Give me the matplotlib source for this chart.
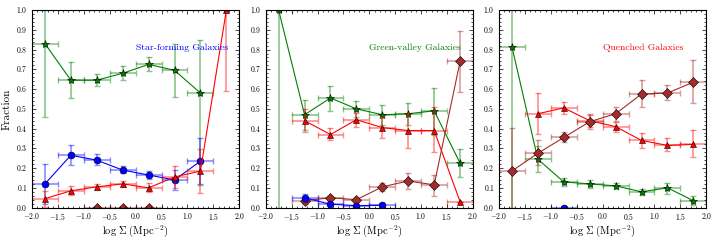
import numpy as np
import matplotlib
matplotlib.use("Agg")
import matplotlib.pyplot as plt
from matplotlib.ticker import AutoMinorLocator, MultipleLocator

plt.style.use("classic")
plt.rcParams["font.family"] = "serif"
plt.rcParams["font.serif"] = ["cmr10", "DejaVu Serif"]
plt.rcParams["mathtext.fontset"] = "cm"
plt.rcParams["axes.formatter.use_mathtext"] = True

bins = [-1.75, -1.25, -0.75, -0.25, 0.25, 0.75, 1.25, 1.75]
titles = ["Star-forming Galaxies", "Green-valley Galaxies", "Quenched Galaxies"]
title_colors = ["blue", "green", "red"]

# ---- Panel 1: Star-forming ----
sf_green_y  = [0.83, 0.645, 0.645, 0.68, 0.725, 0.695, 0.58, None]
sf_green_lo = [0.46, 0.555, 0.615, 0.645, 0.69, 0.56, 0.115, None]
sf_green_hi = [1.00, 0.735, 0.675, 0.715, 0.76, 0.83, 0.85, None]
sf_blue_y   = [0.12, 0.265, 0.24, 0.19, 0.165, 0.14, 0.235, None]
sf_blue_lo  = [0.02, 0.215, 0.215, 0.175, 0.145, 0.09, 0.12, None]
sf_blue_hi  = [0.22, 0.315, 0.27, 0.21, 0.185, 0.19, 0.35, None]
sf_red_y    = [0.045, 0.085, 0.105, 0.12, 0.10, 0.155, 0.185, 1.0]
sf_red_lo   = [0.005, 0.065, 0.09, 0.105, 0.08, 0.10, 0.075, 0.59]
sf_red_hi   = [0.085, 0.11, 0.12, 0.135, 0.125, 0.21, 0.295, 1.0]
sf_brown_y  = [None, None, 0.0, 0.0, 0.0, None, None, None]
sf_brown_lo = [None, None, 0.0, 0.0, 0.0, None, None, None]
sf_brown_hi = [None, None, 0.0, 0.0, 0.0, None, None, None]

# ---- Panel 2: Green-valley ----
gv_green_y  = [1.0, 0.47, 0.555, 0.50, 0.47, 0.475, 0.49, 0.225]
gv_green_lo = [0.0, 0.395, 0.49, 0.46, 0.42, 0.42, 0.37, 0.155]
gv_green_hi = [1.0, 0.545, 0.615, 0.54, 0.52, 0.53, 0.605, 0.295]
gv_red_y    = [None, 0.44, 0.37, 0.445, 0.405, 0.39, 0.39, 0.03]
gv_red_lo   = [None, 0.385, 0.34, 0.41, 0.35, 0.30, 0.28, 0.03]
gv_red_hi   = [None, 0.50, 0.405, 0.48, 0.46, 0.48, 0.51, 0.03]
gv_brown_y  = [None, 0.035, 0.05, 0.04, 0.105, 0.135, 0.115, 0.74]
gv_brown_lo = [None, 0.02, 0.04, 0.03, 0.085, 0.095, 0.06, 0.585]
gv_brown_hi = [None, 0.05, 0.06, 0.05, 0.125, 0.175, 0.165, 0.895]
gv_blue_y   = [None, 0.05, 0.017, 0.01, 0.012, None, None, None]
gv_blue_lo  = [None, 0.03, 0.012, 0.007, 0.008, None, None, None]
gv_blue_hi  = [None, 0.07, 0.022, 0.013, 0.016, None, None, None]

# ---- Panel 3: Quenched ----
q_green_y   = [0.815, 0.245, 0.13, 0.12, 0.11, 0.08, 0.10, 0.035]
q_green_lo  = [0.0, 0.18, 0.11, 0.10, 0.095, 0.065, 0.07, 0.015]
q_green_hi  = [1.0, 0.31, 0.15, 0.14, 0.125, 0.095, 0.125, 0.06]
q_red_y     = [None, 0.475, 0.505, 0.44, 0.41, 0.34, 0.315, 0.32]
q_red_lo    = [None, 0.375, 0.475, 0.41, 0.385, 0.30, 0.285, 0.255]
q_red_hi    = [None, 0.58, 0.535, 0.47, 0.435, 0.38, 0.35, 0.395]
q_brown_y   = [0.185, 0.275, 0.355, 0.435, 0.475, 0.575, 0.58, 0.635]
q_brown_lo  = [0.0, 0.215, 0.33, 0.40, 0.44, 0.51, 0.545, 0.53]
q_brown_hi  = [0.405, 0.34, 0.385, 0.475, 0.51, 0.645, 0.62, 0.745]
q_blue_y    = [None, None, 0.0, None, None, None, None, None]
q_blue_lo   = [None, None, 0.0, None, None, None, None, None]
q_blue_hi   = [None, None, 0.0, None, None, None, None, None]

GREEN = (0.0, 0.5, 0.0)
BLUE = (0.0, 0.0, 1.0)
RED = (1.0, 0.0, 0.0)
BROWN = "#a52a2a"

styles = {
    "green": dict(color=GREEN, marker="*", ms=6),
    "blue": dict(color=BLUE, marker="o", ms=5),
    "red": dict(color=RED, marker="^", ms=5),
    "brown": dict(color=BROWN, marker="D", ms=5),
}

panels = [
    [("green", sf_green_y, sf_green_lo, sf_green_hi),
     ("blue", sf_blue_y, sf_blue_lo, sf_blue_hi),
     ("red", sf_red_y, sf_red_lo, sf_red_hi),
     ("brown", sf_brown_y, sf_brown_lo, sf_brown_hi)],
    [("green", gv_green_y, gv_green_lo, gv_green_hi),
     ("red", gv_red_y, gv_red_lo, gv_red_hi),
     ("brown", gv_brown_y, gv_brown_lo, gv_brown_hi),
     ("blue", gv_blue_y, gv_blue_lo, gv_blue_hi)],
    [("green", q_green_y, q_green_lo, q_green_hi),
     ("red", q_red_y, q_red_lo, q_red_hi),
     ("brown", q_brown_y, q_brown_lo, q_brown_hi),
     ("blue", q_blue_y, q_blue_lo, q_blue_hi)],
]

fig = plt.figure(figsize=(7.2, 2.4), dpi=100)
fig.patch.set_facecolor("white")
lefts = [0.0444, 0.369, 0.693]
width = 0.288
bottom, height = 0.135, 0.823

for i, series in enumerate(panels):
    ax = fig.add_axes([lefts[i], bottom, width, height])
    for name, y, lo, hi in series:
        st = styles[name]
        idx = [k for k, v in enumerate(y) if v is not None]
        xs = np.array([bins[k] for k in idx])
        ys = np.array([y[k] for k in idx])
        los = np.array([y[k] - lo[k] for k in idx])
        his = np.array([hi[k] - y[k] for k in idx])
        ax.errorbar(xs, ys, xerr=0.25, yerr=[los, his], fmt="none",
                    ecolor=st["color"], alpha=0.45, elinewidth=1.2,
                    capsize=2.5, capthick=1.0)
        ax.plot(xs, ys, "-", color=st["color"], lw=0.8, marker=st["marker"],
                ms=st["ms"], mfc=st["color"], mec="black", mew=0.4)
    ax.set_xlim(-2.0, 2.0)
    ax.set_ylim(0.0, 1.0)
    ax.xaxis.set_major_locator(MultipleLocator(0.5))
    ax.yaxis.set_major_locator(MultipleLocator(0.1))
    ax.xaxis.set_minor_locator(AutoMinorLocator(5))
    ax.yaxis.set_minor_locator(AutoMinorLocator(5))
    ax.tick_params(which="both", direction="in", top=True, right=True,
                   labelsize=5.5)
    ax.tick_params(axis="x", pad=2.5)
    ax.tick_params(axis="y", pad=3)
    ax.tick_params(which="major", length=3)
    ax.tick_params(which="minor", length=1.5)
    for sp in ax.spines.values():
        sp.set_linewidth(0.8)
    ax.set_xlabel(r"$\log\,\Sigma\ (\mathrm{Mpc}^{-2})$", fontsize=7.5, labelpad=0.5)
    if i == 0:
        ax.set_ylabel("Fraction", fontsize=8, labelpad=3)
    ax.text(0.5, 0.81, titles[i], transform=ax.transAxes, color=title_colors[i],
            fontsize=7.0, ha="left", va="center")

fig.savefig("out.png", dpi=100, facecolor="white")
